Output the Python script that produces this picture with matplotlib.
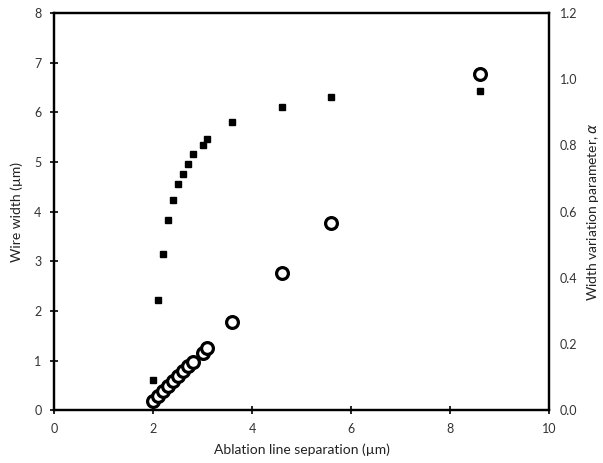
import matplotlib
matplotlib.use("Agg")
import matplotlib.pyplot as plt

plt.rcParams['font.family'] = ['Lato', 'DejaVu Sans']

# data
separation = [2.0, 2.1, 2.2, 2.3, 2.4, 2.5, 2.6, 2.7, 2.8, 3.0, 3.1, 3.6, 4.6, 5.6, 8.6]
wire_width = [0.62, 2.23, 3.15, 3.83, 4.23, 4.56, 4.76, 4.96, 5.16, 5.34, 5.47, 5.81, 6.10, 6.30, 6.43]
alpha = [0.03, 0.045, 0.06, 0.075, 0.09, 0.105, 0.12, 0.135, 0.147, 0.174, 0.19, 0.267, 0.416, 0.566, 1.016]

x_ticks = [0, 2, 4, 6, 8, 10]
y_ticks = [0, 1, 2, 3, 4, 5, 6, 7, 8]
a_ticks = [0.0, 0.2, 0.4, 0.6, 0.8, 1.0, 1.2]

fig = plt.figure(figsize=(6.03, 4.63), dpi=100)
ax = fig.add_axes([0.0896, 0.1134, 0.8208, 0.8586])
ax2 = ax.twinx()

ax.plot(separation, wire_width, linestyle='none', marker='s', markersize=5,
        color='black')
ax2.plot(separation, alpha, linestyle='none', marker='o', markersize=8.5,
         markerfacecolor='white', markeredgecolor='black', markeredgewidth=2.3)

ax.set_xlim(0, 10)
ax.set_ylim(0, 8)
ax2.set_ylim(0, 1.2)
ax.set_xticks(x_ticks)
ax.set_yticks(y_ticks)
ax2.set_yticks(a_ticks)
ax2.set_yticklabels(['%.1f' % t for t in a_ticks])

ax.tick_params(direction='inout', length=6, width=1.2, labelsize=9,
               labelcolor='#333333', pad=6)
ax2.tick_params(length=0, labelsize=9, labelcolor='#333333', pad=8)

for a in (ax, ax2):
    for s in a.spines.values():
        s.set_linewidth(1.6)

ax.set_xlabel('Ablation line separation (µm)', fontsize=10, color='#222222',
              labelpad=6)
ax.set_ylabel('Wire width (µm)', fontsize=10, color='#222222', labelpad=8)
ax2.set_ylabel('Width variation parameter, $\\alpha$', fontsize=10,
               color='#222222', labelpad=5)

fig.savefig('out.png', dpi=100)
